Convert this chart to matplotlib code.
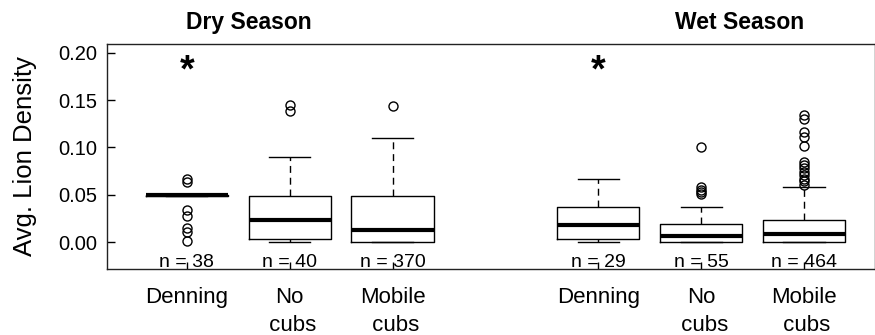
import numpy as np
import matplotlib
matplotlib.use("Agg")
import matplotlib.pyplot as plt

plt.rcParams["font.family"] = ["Liberation Sans", "DejaVu Sans"]

# -------------------------------------------------
# Data
# -------------------------------------------------
positions = [1, 2, 3, 5, 6, 7]
labels = ["Denning", "No\n cubs", "Mobile\n cubs",
          "Denning", "No\n cubs", "Mobile\n cubs"]
n_obs = [38, 40, 370, 29, 55, 464]

med = [0.050, 0.023, 0.013, 0.018, 0.006, 0.008]
q1 = [0.049, 0.003, 0.000, 0.003, 0.000, 0.000]
q3 = [0.050, 0.049, 0.049, 0.037, 0.019, 0.023]
whislo = [0.049, 0.000, 0.000, 0.000, 0.000, 0.000]
whishi = [0.050, 0.090, 0.110, 0.067, 0.037, 0.058]
fliers = [
    [0.067, 0.063, 0.034, 0.028, 0.015, 0.011, 0.001],
    [0.145, 0.139],
    [0.144],
    [],
    [0.100, 0.058, 0.055, 0.053, 0.051],
    [0.134, 0.130, 0.116, 0.111, 0.101, 0.085, 0.081, 0.078,
     0.074, 0.071, 0.067, 0.064, 0.060],
]
signif = [1, 5]          # groups marked with *
seasons = ["Dry Season", "Wet Season"]
season_x = [1.6, 6.37]

# -------------------------------------------------
# Plot
# -------------------------------------------------
stats = []
for i in range(len(positions)):
    stats.append(dict(med=med[i], q1=q1[i], q3=q3[i],
                      whislo=whislo[i], whishi=whishi[i],
                      fliers=np.array(fliers[i])))

fig = plt.figure(figsize=(8.75, 3.35), dpi=100)
ax = fig.add_axes([0.1223, 0.197, 0.8777, 0.6717])

ax.bxp(stats, positions=positions, widths=0.8, capwidths=0.4,
       boxprops=dict(color="black", linewidth=1.0),
       medianprops=dict(color="black", linewidth=3.0, solid_capstyle="butt"),
       whiskerprops=dict(color="black", linewidth=1.0, linestyle=(0, (5, 3.5))),
       capprops=dict(color="black", linewidth=1.0),
       flierprops=dict(marker="o", markerfacecolor="none", markeredgecolor="black",
                       markersize=6.5, markeredgewidth=1.0))

ax.set_xlim(0.223, 7.69)
ax.set_ylim(-0.0285, 0.2093)

ax.set_yticks([0.0, 0.05, 0.10, 0.15, 0.20])
ax.set_yticklabels(["0.00", "0.05", "0.10", "0.15", "0.20"])
ax.set_xticks(positions)
ax.set_xticklabels(labels, linespacing=1.45)

ax.tick_params(axis="y", direction="in", length=6, width=1, labelsize=14.5, pad=7)
ax.tick_params(axis="x", direction="in", length=5, width=1, labelsize=16, pad=13)
for sp in ax.spines.values():
    sp.set_linewidth(1.0)
    sp.set_color("#222222")

ax.set_ylabel("Avg. Lion Density", fontsize=18.5, labelpad=15)

for p, n in zip(positions, n_obs):
    ax.text(p, -0.0218, f"n = {n}", ha="center", va="center", fontsize=14)

for p in signif:
    ax.text(p, 0.180, "*", ha="center", va="center", fontsize=27, fontweight="bold")

for sx, s in zip(season_x, seasons):
    ax.text(sx, 1.0 + 0.095, s, transform=ax.get_xaxis_transform(),
            ha="center", va="center", fontsize=16.5, fontweight="bold")

fig.savefig("out.png", dpi=100)
